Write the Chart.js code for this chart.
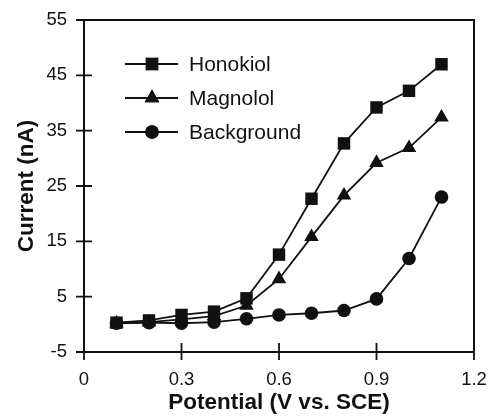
<!DOCTYPE html>
<html>
<head>
<meta charset="utf-8">
<script src="https://cdn.jsdelivr.net/npm/chart.js@4/dist/chart.umd.min.js"></script>
<style>
html,body{margin:0;padding:0;background:#fff;}
#wrap{width:491px;height:416px;position:relative;}
</style>
</head>
<body>
<div id="wrap"><canvas id="c" width="491" height="416"></canvas></div>
<script>
const potentials = [0.1, 0.2, 0.3, 0.4, 0.5, 0.6, 0.7, 0.8, 0.9, 1.0, 1.1];
const honokiol   = [0.3, 0.7, 1.7, 2.3, 4.7, 12.6, 22.7, 32.7, 39.2, 42.2, 47.0];
const magnolol   = [0.2, 0.4, 0.9, 1.5, 3.4, 8.2, 15.8, 23.3, 29.2, 31.9, 37.4];
const background = [0.2, 0.3, 0.2, 0.4, 1.0, 1.7, 2.0, 2.5, 4.6, 11.9, 23.0];
const seriesNames = ['Honokiol', 'Magnolol', 'Background'];
const xTicks = [0, 0.3, 0.6, 0.9, 1.2];
const yTicks = [-5, 5, 15, 25, 35, 45, 55];

const INK = '#111';
const FAM = '"Liberation Sans", Arial, Helvetica, sans-serif';
function pts(ys){ return potentials.map((x,i)=>({x:x,y:ys[i]})); }

const styles = [
  {pointStyle:'rect', r:8.8},
  {pointStyle:'triangle', r:8.4},
  {pointStyle:'circle', r:6.8}
];
const dataSets = [honokiol, magnolol, background].map((d,i)=>({
  label: seriesNames[i],
  data: pts(d),
  borderColor: INK,
  backgroundColor: INK,
  borderWidth: 1.8,
  pointStyle: styles[i].pointStyle,
  pointRadius: styles[i].r,
  pointBorderWidth: 0,
  pointBackgroundColor: INK,
  tension: 0
}));

const frame = {
  id:'frame',
  afterDraw(chart){
    const ctx = chart.ctx, a = chart.chartArea;
    const xs = chart.scales.x, ys = chart.scales.y;
    ctx.save();
    ctx.strokeStyle = INK;
    ctx.lineWidth = 2;
    ctx.strokeRect(a.left, a.top, a.right-a.left, a.bottom-a.top);
    ctx.lineWidth = 1.8;
    ctx.beginPath();
    yTicks.forEach((v,i)=>{
      const y = ys.getPixelForValue(v);
      if (i===0 || i===yTicks.length-1) { ctx.moveTo(a.left-8, y); ctx.lineTo(a.left, y); }
      else { ctx.moveTo(a.left-8, y); ctx.lineTo(a.left+8, y); }
    });
    xTicks.forEach((v,i)=>{
      const x = xs.getPixelForValue(v);
      if (i===0 || i===xTicks.length-1) { ctx.moveTo(x, a.bottom); ctx.lineTo(x, a.bottom+8); }
      else { ctx.moveTo(x, a.bottom-9); ctx.lineTo(x, a.bottom+8); }
    });
    ctx.stroke();
    // legend
    const rows = [64, 98, 132];
    ctx.font = '21px ' + FAM;
    ctx.textBaseline = 'middle';
    ctx.textAlign = 'left';
    chart.data.datasets.forEach((ds,i)=>{
      const y = rows[i];
      ctx.strokeStyle = INK; ctx.lineWidth = 1.8;
      ctx.beginPath(); ctx.moveTo(125, y); ctx.lineTo(178, y); ctx.stroke();
      ctx.fillStyle = INK;
      Chart.helpers.drawPoint(ctx, {pointStyle: ds.pointStyle, radius: ds.pointRadius, borderWidth:0}, 152, y);
      ctx.fill();
      ctx.fillText(ds.label, 189, y+1);
    });
    ctx.restore();
  }
};

function noPad(s){ s.paddingLeft = 0; s.paddingRight = 0; s.paddingTop = 0; s.paddingBottom = 0; }

new Chart(document.getElementById('c'), {
  type: 'line',
  data: { datasets: dataSets },
  options: {
    responsive: false,
    animation: false,
    events: [],
    layout: { padding: { top: 20, right: 17, left: 0, bottom: 0 } },
    plugins: { legend: { display: false }, tooltip: { enabled: false } },
    scales: {
      x: {
        type: 'linear', min: 0, max: 1.2,
        afterBuildTicks: s => { s.ticks = xTicks.map(v=>({value:v})); },
        afterFit: s => { s.height = 64; noPad(s); },
        grid: { display: false, drawTicks: false },
        border: { display: false },
        ticks: { color: INK, padding: 17, maxRotation: 0, autoSkip: false,
          font: { family: FAM, size: 18.5 },
          callback: v => String(Math.round(v*10)/10) },
        title: { display: true, text: 'Potential (V vs. SCE)', color: INK,
          font: { family: FAM, size: 22.5, weight: 'bold' },
          padding: { top: 6, bottom: 0 } }
      },
      y: {
        type: 'linear', min: -5, max: 55,
        afterBuildTicks: s => { s.ticks = yTicks.map(v=>({value:v})); },
        afterFit: s => { s.width = 84; noPad(s); },
        grid: { display: false, drawTicks: false },
        border: { display: false },
        ticks: { color: INK, padding: 17, autoSkip: false,
          font: { family: FAM, size: 18.5 } },
        title: { display: true, text: 'Current (nA)', color: INK,
          font: { family: FAM, size: 22.5, weight: 'bold' },
          padding: { top: 13, bottom: 0 } }
      }
    }
  },
  plugins: [frame]
});
</script>
</body>
</html>
